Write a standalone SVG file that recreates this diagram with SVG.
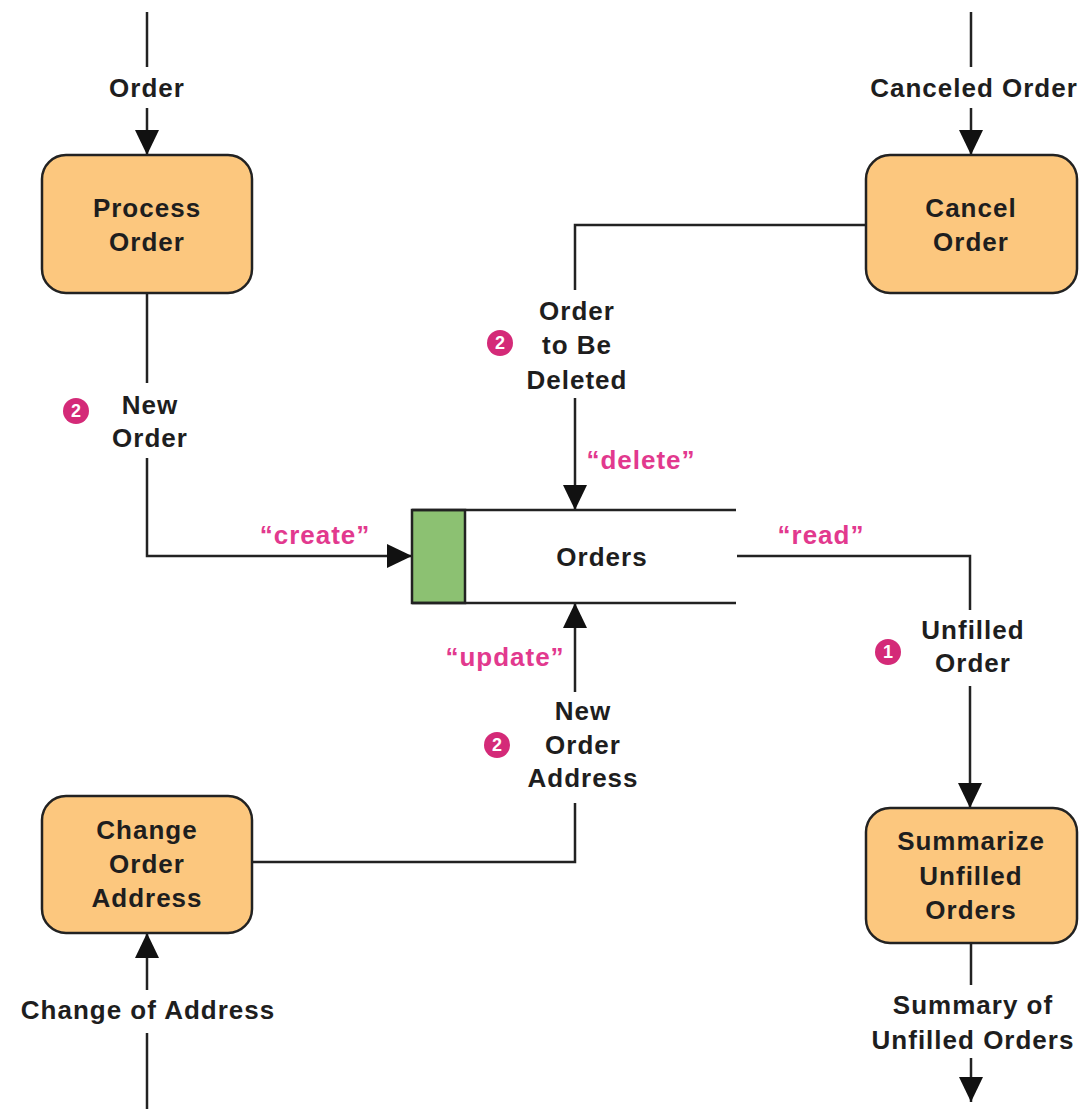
<svg xmlns="http://www.w3.org/2000/svg" width="1086" height="1109" viewBox="0 0 1086 1109">
<style>
  .proc { fill: #FCC77E; stroke: #222; stroke-width: 2.5; }
  .t { font-family: "Liberation Sans", Arial, Helvetica, sans-serif; font-weight: bold; font-size: 26px; letter-spacing: 1px; fill: #1e1e1e; text-anchor: middle; }
  .pink { fill: #E2398E; }
  .ln { fill: none; stroke: #222; stroke-width: 2.5; }
  .badge { fill: #D42A78; }
  .bt { font-family: "Liberation Sans", Arial, sans-serif; font-weight: bold; font-size: 18px; fill: #fff; text-anchor: middle; }
</style>
<defs>
  <marker id="arr" markerUnits="userSpaceOnUse" markerWidth="25" markerHeight="24" refX="25" refY="12" orient="auto">
    <path d="M0,0 L25,12 L0,24 z" fill="#111"/>
  </marker>
</defs>
<rect width="1086" height="1109" fill="#fff"/>

<g id="connectors">
  <line class="ln" x1="147" y1="12" x2="147" y2="67"/>
  <line class="ln" x1="147" y1="108" x2="147" y2="155" marker-end="url(#arr)"/>
  <line class="ln" x1="971" y1="12" x2="971" y2="67"/>
  <line class="ln" x1="971" y1="108" x2="971" y2="155" marker-end="url(#arr)"/>
  <line class="ln" x1="147" y1="293" x2="147" y2="383"/>
  <path class="ln" d="M147,458 L147,556 L412,556" marker-end="url(#arr)"/>
  <path class="ln" d="M866,225 L575,225 L575,290"/>
  <line class="ln" x1="575" y1="398" x2="575" y2="510" marker-end="url(#arr)"/>
  <path class="ln" d="M737,556 L970,556 L970,610"/>
  <line class="ln" x1="970" y1="686" x2="970" y2="808" marker-end="url(#arr)"/>
  <line class="ln" x1="971" y1="943" x2="971" y2="985"/>
  <line class="ln" x1="971" y1="1058" x2="971" y2="1102" marker-end="url(#arr)"/>
  <path class="ln" d="M252,862 L575,862 L575,803"/>
  <line class="ln" x1="575" y1="692" x2="575" y2="603" marker-end="url(#arr)"/>
  <line class="ln" x1="147" y1="1109" x2="147" y2="1033"/>
  <line class="ln" x1="147" y1="990" x2="147" y2="933" marker-end="url(#arr)"/>
</g>

<g id="labels">
  <text class="t" x="147" y="97">Order</text>
  <text class="t" x="974" y="97">Canceled Order</text>
  <text class="t" x="150" y="414">New</text>
  <text class="t" x="150" y="447">Order</text>
  <text class="t" x="577" y="320">Order</text>
  <text class="t" x="577" y="354">to Be</text>
  <text class="t" x="577" y="389">Deleted</text>
  <text class="t pink" x="641" y="469">“delete”</text>
  <text class="t pink" x="315" y="544">“create”</text>
  <text class="t pink" x="821" y="544">“read”</text>
  <text class="t" x="973" y="639">Unfilled</text>
  <text class="t" x="973" y="672">Order</text>
  <text class="t pink" x="505" y="666">“update”</text>
  <text class="t" x="583" y="720">New</text>
  <text class="t" x="583" y="754">Order</text>
  <text class="t" x="583" y="787">Address</text>
  <text class="t" x="148" y="1019">Change of Address</text>
  <text class="t" x="973" y="1014">Summary of</text>
  <text class="t" x="973" y="1049">Unfilled Orders</text>
</g>

<g id="badges">
  <circle class="badge" cx="76" cy="411" r="13"/><text class="bt" x="76" y="417">2</text>
  <circle class="badge" cx="500" cy="343" r="13"/><text class="bt" x="500" y="349">2</text>
  <circle class="badge" cx="888" cy="652" r="13"/><text class="bt" x="888" y="658">1</text>
  <circle class="badge" cx="497" cy="745" r="13"/><text class="bt" x="497" y="751">2</text>
</g>

<g id="process-order">
  <rect class="proc" x="42" y="155" width="210" height="138" rx="24"/>
  <text class="t" x="147" y="217">Process</text>
  <text class="t" x="147" y="251">Order</text>
</g>

<g id="cancel-order">
  <rect class="proc" x="866" y="155" width="211" height="138" rx="24"/>
  <text class="t" x="971" y="217">Cancel</text>
  <text class="t" x="971" y="251">Order</text>
</g>

<g id="orders-store">
  <rect x="412" y="510" width="53" height="93" fill="#8CC172" stroke="#222" stroke-width="2.5"/>
  <line class="ln" x1="412" y1="510" x2="736" y2="510"/>
  <line class="ln" x1="412" y1="603" x2="736" y2="603"/>
  <text class="t" x="602" y="566">Orders</text>
</g>

<g id="change-order-address">
  <rect class="proc" x="42" y="796" width="210" height="137" rx="24"/>
  <text class="t" x="147" y="839">Change</text>
  <text class="t" x="147" y="873">Order</text>
  <text class="t" x="147" y="907">Address</text>
</g>

<g id="summarize-unfilled-orders">
  <rect class="proc" x="866" y="808" width="211" height="135" rx="24"/>
  <text class="t" x="971" y="850">Summarize</text>
  <text class="t" x="971" y="885">Unfilled</text>
  <text class="t" x="971" y="919">Orders</text>
</g>
</svg>
